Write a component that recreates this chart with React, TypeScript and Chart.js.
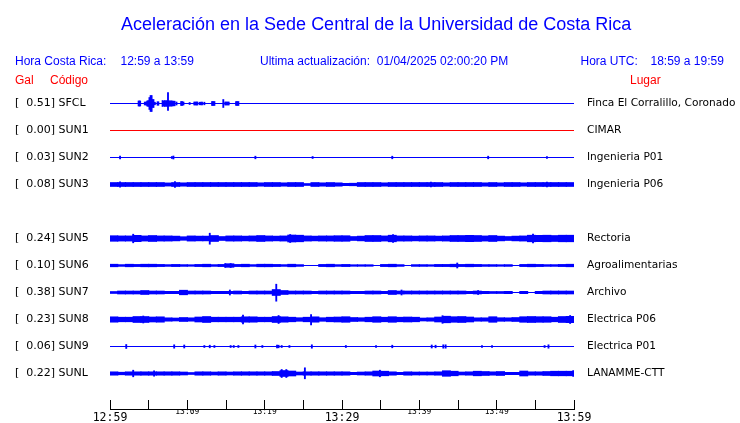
import React, { useEffect, useRef } from 'react';
import { Chart, registerables } from 'chart.js';

Chart.register(...registerables);

// ---------------- data ----------------
const TITLE = 'Aceleración en la Sede Central de la Universidad de Costa Rica';
const LOCAL_LABEL = 'Hora Costa Rica:';
const LOCAL_RANGE = '12:59 a 13:59';
const UPDATED_TEXT = 'Ultima actualización:  01/04/2025 02:00:20 PM';
const UTC_LABEL = 'Hora UTC:';
const UTC_RANGE = '18:59 a 19:59';

const STATION_CODES = ['SFCL', 'SUN1', 'SUN2', 'SUN3', 'SUN5', 'SUN6', 'SUN7', 'SUN8', 'SUN9', 'SUNL'];
const STATION_ROWS = [0, 1, 2, 3, 5, 6, 7, 8, 9, 10];
const STATION_GAL = [0.51, 0.0, 0.03, 0.08, 0.24, 0.1, 0.38, 0.23, 0.06, 0.22];
const STATION_PLACES = [
  'Finca El Corralillo, Coronado',
  'CIMAR',
  'Ingenieria P01',
  'Ingenieria P06',
  'Rectoria',
  'Agroalimentarias',
  'Archivo',
  'Electrica P06',
  'Electrica P01',
  'LANAMME-CTT',
];
const OFFLINE_STATIONS = ['SUN1'];

const MINUTES = 60;
const TIME_LABELS = ['12:59', '13:09', '13:19', '13:29', '13:39', '13:49', '13:59'];
const MAJOR_TIME_LABELS = ['12:59', '13:29', '13:59'];

// Envelope half-amplitude per minute (trace units, 27 units = one row spacing)
const ENV_SFCL: number[] = [];
const ENV_SUN1: number[] = [];
const ENV_SUN2: number[] = [];
const ENV_SUN3 = [
  2.0, 2.0, 2.0, 2.0, 2.0, 2.0, 2.0, 1.6, 2.0, 1.7,
  2.0, 2.0, 2.0, 2.0, 2.0, 2.0, 2.0, 2.0, 2.0, 1.7,
  2.0, 2.0, 1.7, 2.0, 2.0, 1.0, 2.0, 1.7, 2.0, 1.7,
  1.2, 1.3, 2.0, 2.0, 2.0, 1.7, 2.0, 2.0, 2.0, 2.0,
  2.0, 2.0, 2.0, 1.7, 2.0, 2.0, 2.0, 2.0, 1.7, 2.0,
  1.7, 2.0, 2.0, 1.7, 2.0, 2.0, 2.0, 2.0, 2.0, 2.0,
];
const ENV_SUN5 = [
  2.8, 2.6, 2.6, 3.2, 2.6, 3.0, 2.6, 2.6, 2.4, 1.8,
  2.6, 2.4, 2.4, 3.0, 2.0, 2.6, 2.6, 2.4, 2.6, 3.0,
  2.6, 2.4, 2.6, 3.5, 3.3, 2.6, 2.4, 2.6, 2.6, 2.8,
  2.8, 2.0, 2.4, 3.0, 3.0, 2.6, 3.3, 2.6, 2.6, 2.4,
  2.6, 2.6, 2.4, 2.6, 3.0, 3.0, 3.2, 3.0, 2.6, 3.0,
  2.4, 2.0, 2.4, 2.6, 3.3, 3.2, 3.3, 3.0, 3.3, 3.3,
];
const ENV_SUN6 = [
  1.3, 0.9, 1.3, 1.1, 1.3, 1.3, 1.1, 0.9, 1.1, 0.9,
  0.8, 1.1, 1.3, 0.9, 1.1, 1.8, 1.1, 1.3, 0.9, 1.3,
  1.3, 1.1, 0.9, 1.3, 0.9, 0, 0, 1.1, 1.3, 0.9,
  1.1, 0.8, 0.8, 0.8, 0, 1.1, 1.3, 0.9, 0, 0.9,
  0.9, 0.8, 1.1, 1.1, 1.3, 1.1, 1.3, 1.1, 0.9, 0.9,
  0.8, 0.9, 0, 1.1, 1.3, 1.1, 0.9, 0.9, 1.1, 1.3,
];
const ENV_SUN7 = [
  1.0, 1.5, 1.5, 1.5, 2.0, 1.5, 1.5, 1.2, 1.2, 2.3,
  1.5, 1.5, 1.5, 1.2, 1.2, 1.2, 1.5, 1.2, 1.5, 1.5,
  1.5, 3.0, 2.0, 1.5, 1.5, 1.5, 1.2, 1.5, 1.5, 1.5,
  1.5, 1.2, 1.2, 1.5, 1.5, 1.2, 2.0, 1.5, 1.5, 1.5,
  1.5, 1.5, 1.5, 1.5, 1.5, 1.5, 1.2, 1.5, 1.2, 1.0,
  1.0, 1.2, 0, 1.2, 0, 1.2, 1.5, 1.5, 1.5, 1.5,
];
const ENV_SUN8 = [
  2.7, 2.3, 2.3, 3.0, 3.0, 2.5, 2.7, 1.7, 1.5, 2.0,
  1.7, 2.5, 3.0, 2.3, 2.3, 2.3, 2.3, 2.7, 2.7, 2.3,
  2.3, 3.0, 2.7, 2.3, 1.8, 2.3, 2.7, 1.8, 2.3, 2.5,
  2.8, 2.0, 1.8, 2.3, 2.8, 2.3, 2.8, 2.3, 2.5, 2.3,
  1.5, 1.7, 2.5, 3.3, 2.8, 3.0, 2.5, 1.7, 1.7, 2.8,
  1.8, 1.7, 2.0, 2.8, 3.0, 2.8, 2.8, 2.3, 3.0, 3.2,
];
const ENV_SUN9: number[] = [];
const ENV_SUNL = [
  1.7, 1.3, 1.7, 1.7, 1.7, 1.7, 1.7, 1.7, 1.7, 1.5,
  1.0, 1.7, 1.7, 1.5, 1.7, 1.5, 1.7, 1.7, 1.7, 1.7,
  1.7, 2.0, 3.0, 2.5, 1.5, 1.7, 1.7, 1.7, 1.7, 1.7,
  1.7, 1.2, 1.5, 1.7, 2.5, 2.3, 1.7, 1.2, 1.7, 1.5,
  1.5, 1.5, 1.7, 2.8, 2.3, 1.5, 1.7, 2.3, 2.0, 1.7,
  2.0, 1.2, 1.2, 2.5, 1.7, 1.7, 2.0, 2.3, 2.3, 2.3,
];

// Short bursts: [minute, half-amplitude] or [minute, amplitude up, amplitude down]
const SPIKES_SFCL = [
  [3.7, 2.5], [3.8, 2.5], [3.9, 2.5],
  [4.5, 1.5], [4.65, 1.5], [4.8, 2.5], [4.95, 3], [5.1, 6], [5.25, 8], [5.38, 8], [5.5, 4], [5.62, 4],
  [5.8, 1.3], [6.15, 1.7], [6.25, 1.7],
  [6.8, 3], [6.95, 2.5], [7.1, 3], [7.25, 2.5], [7.38, 3], [7.5, 11, 7],
  [7.62, 2.7], [7.77, 2.5], [7.92, 2.7], [8.07, 2.5], [8.22, 2.3], [8.35, 2.3],
  [8.6, 1.5], [9.2, 2], [9.35, 2], [9.5, 1.5], [10.3, 1],
  [10.9, 1.5], [11.05, 1.5], [11.2, 1.5], [11.3, 1.5], [11.6, 1.3], [11.75, 1.3], [11.9, 1.3], [12.2, 1.3],
  [13.2, 2], [13.35, 2], [13.5, 2], [14.65, 4],
  [14.9, 1.5], [15.05, 1.5], [15.2, 1.5], [15.35, 1.5],
  [16.3, 2], [16.45, 2], [16.6, 2],
];
const SPIKES_SUN1: number[][] = [];
const SPIKES_SUN2 = [[1.3, 1.3], [8.0, 1], [8.2, 1.5], [18.8, 1.3], [26.2, 1], [36.5, 1.3], [48.9, 1.3], [56.5, 1]];
const SPIKES_SUN3 = [[1.3, 2.7], [8.4, 3], [41.5, 2.5], [56.5, 2.5]];
const SPIKES_SUN5 = [[3.0, 4.3], [12.9, 5.3, 5.7], [23.3, 4], [36.6, 3.8], [54.7, 4.5]];
const SPIKES_SUN6 = [[14.9, 2], [15.6, 2], [44.9, 2.5]];
const SPIKES_SUN7 = [[15.5, 2.5], [21.5, 8.3, 8.7], [37.7, 2.5], [47.6, 2]];
const SPIKES_SUN8 = [[4.3, 3.5], [17.2, 4.5], [21.8, 4], [26.0, 5, 5.5], [43.0, 3.8], [59.5, 4]];
const SPIKES_SUN9 = [
  [2.1, 2], [8.3, 1.7], [9.6, 1.5], [12.2, 1], [12.9, 1.3], [13.5, 1], [15.6, 1], [16.0, 1], [16.6, 1],
  [18.8, 1.5], [19.7, 1], [21.6, 1.3], [21.8, 1.3], [22.2, 1], [23.2, 1], [26.1, 1.7], [30.5, 1], [34.4, 1],
  [36.5, 1.3], [41.6, 1.5], [42.1, 1.3], [43.1, 1.7], [43.4, 1.7], [48.1, 1], [49.4, 1], [56.2, 1], [56.7, 1.7],
];
const SPIKES_SUNL = [[3.0, 3.3], [5.7, 2.7], [22.2, 4], [22.8, 4], [25.2, 5.7, 5.3], [34.9, 3.3], [59.9, 3]];

const ENVELOPES = [ENV_SFCL, ENV_SUN1, ENV_SUN2, ENV_SUN3, ENV_SUN5, ENV_SUN6, ENV_SUN7, ENV_SUN8, ENV_SUN9, ENV_SUNL];
const SPIKES = [SPIKES_SFCL, SPIKES_SUN1, SPIKES_SUN2, SPIKES_SUN3, SPIKES_SUN5, SPIKES_SUN6, SPIKES_SUN7, SPIKES_SUN8, SPIKES_SUN9, SPIKES_SUNL];

// ---------------- styling / layout ----------------
const BLUE = '#0000ff';
const RED = '#ff0000';
const UNITS_PER_ROW = 27;
const PLOT_LEFT = 110;
const PLOT_RIGHT = 574;
const PLOT_TOP = 90;
const PLOT_BOTTOM = 409;
const CANVAS_W = 740;
const CANVAS_H = 423;
const LABEL_LEFT = 15;
const Y_MIN = -0.5;
const Y_MAX = (PLOT_BOTTOM - PLOT_TOP) / UNITS_PER_ROW - 0.5;
const BIN_PX = (PLOT_RIGHT - PLOT_LEFT) / MINUTES;
const HEADER_FONT = '"Liberation Sans", Arial, Helvetica, sans-serif';
const LABEL_FONT = '"DejaVu Sans", sans-serif';
const TIME_FONT = '"DejaVu Sans Mono", monospace';

function buildConfig(): any {
  const baseLines = STATION_CODES.map((code, i) => ({
    type: 'line',
    data: [
      { x: 0, y: STATION_ROWS[i] },
      { x: MINUTES, y: STATION_ROWS[i] },
    ],
    borderColor: OFFLINE_STATIONS.includes(code) ? RED : BLUE,
    borderWidth: 1,
    pointRadius: 0,
    fill: false,
    tension: 0,
  }));

  const binPoints: any[] = [];
  ENVELOPES.forEach((env, i) => {
    env.forEach((a, m) => {
      if (a > 0.6) {
        const row = STATION_ROWS[i];
        binPoints.push({ x: m + 0.5, y: [row - a / UNITS_PER_ROW, row + a / UNITS_PER_ROW] });
      }
    });
  });

  const spikePoints: any[] = [];
  SPIKES.forEach((list, i) => {
    list.forEach((s) => {
      const row = STATION_ROWS[i];
      const up = s[1];
      const down = s.length > 2 ? s[2] : s[1];
      spikePoints.push({ x: s[0], y: [row - up / UNITS_PER_ROW, row + down / UNITS_PER_ROW] });
    });
  });

  const yCommon = {
    type: 'linear',
    min: Y_MIN,
    max: Y_MAX,
    reverse: true,
    stacked: false,
    border: { display: false },
    afterBuildTicks: (s: any) => {
      s.ticks = STATION_ROWS.map((v) => ({ value: v }));
    },
  };

  return {
    type: 'line',
    data: {
      datasets: [
        ...baseLines,
        {
          type: 'bar',
          data: binPoints,
          backgroundColor: BLUE,
          borderWidth: 0,
          barThickness: BIN_PX + 0.5,
          stack: 'trace',
        },
        {
          type: 'bar',
          data: spikePoints,
          backgroundColor: BLUE,
          borderWidth: 0,
          barThickness: 1.2,
          stack: 'trace',
        },
      ],
    },
    options: {
      animation: false,
      responsive: false,
      events: [],
      layout: { padding: { left: LABEL_LEFT, right: 0, top: PLOT_TOP, bottom: 0 } },
      plugins: { legend: { display: false }, tooltip: { enabled: false }, title: { display: false } },
      scales: {
        x: {
          type: 'linear',
          min: 0,
          max: MINUTES,
          offset: false,
          grid: { drawOnChartArea: false, drawTicks: true, tickLength: -9, color: '#000', lineWidth: 1, offset: false },
          border: { display: true, color: '#000', width: 1 },
          ticks: {
            stepSize: 5,
            autoSkip: false,
            maxRotation: 0,
            minRotation: 0,
            padding: 7,
            color: '#000',
            font: (ctx: any) => {
              const v = ctx && ctx.tick ? ctx.tick.value : 5;
              const label = v % 10 === 0 ? TIME_LABELS[v / 10] : '';
              return MAJOR_TIME_LABELS.includes(label)
                ? { family: TIME_FONT, size: 11.5, lineHeight: 1.85 }
                : { family: TIME_FONT, size: 8, lineHeight: 1.3 };
            },
            callback: (v: number) => (v % 10 === 0 ? TIME_LABELS[v / 10] : ''),
          },
          afterFit: (s: any) => {
            s.height = CANVAS_H - PLOT_BOTTOM;
          },
        },
        y: {
          ...yCommon,
          position: 'left',
          grid: { display: false, drawTicks: false },
          ticks: {
            crossAlign: 'far',
            padding: 0,
            autoSkip: false,
            color: '#000',
            font: { family: LABEL_FONT, size: 11 },
            callback: (v: number) => {
              const i = STATION_ROWS.indexOf(v);
              return i < 0 ? '' : `[  ${STATION_GAL[i].toFixed(2)}] ${STATION_CODES[i]}`;
            },
          },
          afterFit: (s: any) => {
            s.width = PLOT_LEFT - LABEL_LEFT;
          },
        },
        y2: {
          ...yCommon,
          position: 'right',
          grid: { display: false, drawTicks: true, tickLength: 13 },
          ticks: {
            crossAlign: 'near',
            padding: 0,
            autoSkip: false,
            color: '#000',
            font: { family: LABEL_FONT, size: 10.6 },
            callback: (v: number) => {
              const i = STATION_ROWS.indexOf(v);
              return i < 0 ? '' : STATION_PLACES[i];
            },
          },
          afterFit: (s: any) => {
            s.width = CANVAS_W - PLOT_RIGHT;
          },
        },
      },
    },
  };
}

function Txt(props: { left: number; top: number; size: number; color: string; children: React.ReactNode }) {
  return (
    <span
      style={{
        position: 'absolute',
        left: props.left,
        top: props.top,
        fontFamily: HEADER_FONT,
        fontSize: props.size,
        lineHeight: `${props.size}px`,
        color: props.color,
        whiteSpace: 'pre',
      }}
    >
      {props.children}
    </span>
  );
}

export default function App() {
  const canvasRef = useRef<HTMLCanvasElement>(null);

  useEffect(() => {
    if (!canvasRef.current) return;
    const chart = new Chart(canvasRef.current, buildConfig());
    return () => chart.destroy();
  }, []);

  return (
    <div
      style={{
        position: 'absolute',
        left: 0,
        top: 0,
        width: CANVAS_W,
        height: CANVAS_H,
        background: '#fff',
        overflow: 'hidden',
      }}
    >
      <canvas
        ref={canvasRef}
        width={CANVAS_W}
        height={CANVAS_H}
        style={{ position: 'absolute', left: 0, top: 0, width: CANVAS_W, height: CANVAS_H }}
      />
      <Txt left={121} top={14.8} size={18} color={BLUE}>{TITLE}</Txt>
      <Txt left={15} top={55.2} size={12} color={BLUE}>{LOCAL_LABEL}</Txt>
      <Txt left={120.5} top={55.2} size={12} color={BLUE}>{LOCAL_RANGE}</Txt>
      <Txt left={260} top={55.2} size={12} color={BLUE}>{UPDATED_TEXT}</Txt>
      <Txt left={580.5} top={55.2} size={12} color={BLUE}>{UTC_LABEL}</Txt>
      <Txt left={650.5} top={55.2} size={12} color={BLUE}>{UTC_RANGE}</Txt>
      <Txt left={15} top={74.1} size={12} color={RED}>Gal</Txt>
      <Txt left={50} top={74.1} size={12} color={RED}>Código</Txt>
      <Txt left={630} top={74.1} size={12} color={RED}>Lugar</Txt>
    </div>
  );
}
